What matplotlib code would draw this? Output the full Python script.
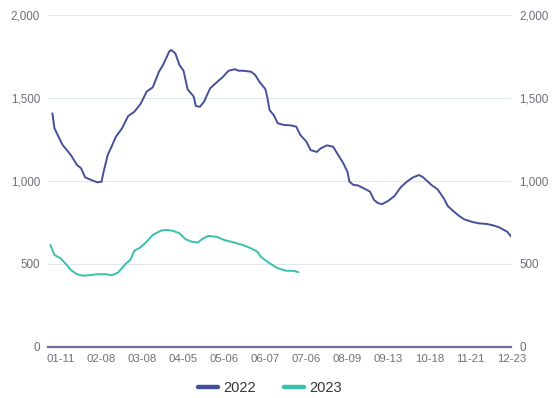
import matplotlib.pyplot as plt
from matplotlib.ticker import FuncFormatter

plt.rcParams['font.family'] = ['Liberation Sans', 'DejaVu Sans']

# x = trading-day index
x_2022 = [2, 3, 5, 7, 9, 11, 14, 16, 18, 21, 24, 26, 27, 29, 31, 33, 36, 39, 42, 45,
          48, 51, 54, 56, 59, 60, 62, 64, 66, 68, 71, 72, 74, 76, 79, 82, 85, 88, 91, 93,
          95, 99, 101, 103, 106, 107, 108, 110, 112, 115, 118, 121, 123, 126, 128, 131, 133, 136, 139, 141,
          144, 146, 147, 149, 151, 153, 157, 159, 161, 163, 166, 169, 172, 175, 178, 181, 183, 187, 190, 193,
          195, 198, 201, 203, 207, 210, 214, 217, 220, 224, 226]
v_2022 = [1407, 1317, 1266, 1216, 1186, 1156, 1096, 1076, 1021, 1005, 991, 995, 1055, 1156, 1210, 1266, 1317, 1391, 1417, 1463,
          1538, 1564, 1658, 1699, 1779, 1789, 1769, 1699, 1664, 1552, 1508, 1451, 1447, 1477, 1558, 1592, 1624, 1664, 1673, 1664,
          1664, 1658, 1638, 1598, 1552, 1498, 1427, 1397, 1347, 1337, 1335, 1327, 1277, 1236, 1186, 1174, 1196, 1214, 1206, 1166,
          1106, 1055, 995, 975, 973, 961, 935, 885, 865, 860, 880, 909, 961, 995, 1021, 1035, 1021, 975, 949, 895,
          848, 814, 784, 768, 752, 744, 740, 732, 720, 693, 663]

x_2023 = [1, 3, 6, 9, 11, 14, 17, 20, 24, 28, 31, 34, 38, 40, 42, 45, 48, 51, 55, 58,
          61, 64, 67, 70, 73, 75, 78, 82, 86, 91, 95, 99, 102, 104, 108, 112, 116, 120, 122]
v_2023 = [613, 553, 533, 493, 463, 437, 428, 431, 437, 437, 431, 446, 503, 523, 579, 599, 633, 674, 700, 704,
          698, 684, 648, 633, 628, 648, 668, 663, 643, 627, 613, 593, 573, 539, 503, 473, 458, 457, 449]

tick_pos = [6, 26, 46, 66, 86, 106, 126, 146, 166, 186, 206, 226]
tick_labels = ["01-11", "02-08", "03-08", "04-05", "05-06", "06-07",
               "07-06", "08-09", "09-13", "10-18", "11-21", "12-23"]

fig = plt.figure(figsize=(5.57, 3.98), dpi=100)
ax = fig.add_axes([0.0867, 0.1289, 0.8313, 0.8334])

ax.plot(x_2022, v_2022, color="#44519a", lw=1.4, label="2022", solid_capstyle="round")
ax.plot(x_2023, v_2023, color="#39bfae", lw=1.4, label="2023", solid_capstyle="round")

ax.set_xlim(0, 226)
ax.set_ylim(0, 2000)
ax.set_yticks([0, 500, 1000, 1500, 2000])
ax.yaxis.set_major_formatter(FuncFormatter(lambda v, p: f"{int(v):,}"))
ax.set_xticks(tick_pos)
ax.set_xticklabels(tick_labels)
ax.grid(axis="y", color="#e0e6f1", lw=0.75)
ax.set_axisbelow(True)

for s in ["top", "left", "right"]:
    ax.spines[s].set_visible(False)
ax.spines["bottom"].set_color("#6e7095")
ax.spines["bottom"].set_linewidth(1.6)
ax.spines["bottom"].set_zorder(5)

ax.tick_params(axis="x", length=0, pad=5, labelsize=8.2, labelcolor="#6e7079")
ax.tick_params(axis="y", length=0, pad=6, labelsize=8.4, labelcolor="#6e7079",
               labelleft=True, labelright=True)

leg = fig.legend(loc="center", bbox_to_anchor=(270 / 557, 1 - 388 / 398), ncol=2,
                 frameon=False, fontsize=10.5, handlelength=1.37, handletextpad=0.34,
                 columnspacing=1.92, labelcolor="#333333")
for h in leg.get_lines():
    h.set_linewidth(3.2)

fig.savefig("out.png", dpi=100)
